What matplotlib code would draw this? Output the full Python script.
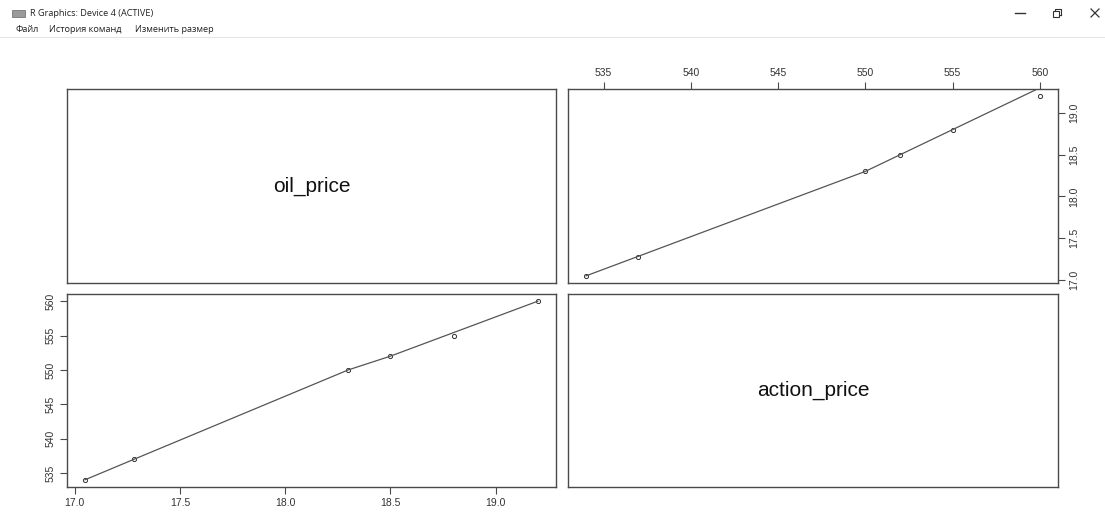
import matplotlib
matplotlib.use("Agg")
import matplotlib.pyplot as plt
import numpy as np

# Цены: нефть и акции
oil_price = [17.05, 17.28, 18.3, 18.5, 18.8, 19.2]
action_price = [534, 537, 550, 552, 555, 560]
var_names = ["oil_price", "action_price"]

oil_ticks = [17.0, 17.5, 18.0, 18.5, 19.0]
action_ticks = [535, 540, 545, 550, 555, 560]


def lowess(x, y, f=2/3, iters=3):
    # тот же алгоритм, что и lowess() в R
    x = np.asarray(x, float)
    y = np.asarray(y, float)
    order = np.argsort(x)
    x, y = x[order], y[order]
    n = len(x)
    ns = max(min(int(round(f * n)), n), 2)
    rng = x[-1] - x[0]
    rw = np.ones(n)
    ys = np.zeros(n)
    for it in range(iters + 1):
        for i in range(n):
            d = np.abs(x - x[i])
            idx = np.argsort(d, kind="stable")[:ns]
            nl, nr = idx.min(), idx.max()
            h = max(x[i] - x[nl], x[nr] - x[i])
            w = np.zeros(n)
            for j in range(nl, nr + 1):
                r = abs(x[j] - x[i])
                if r <= 0.999 * h:
                    w[j] = 1.0 if r <= 0.001 * h else (1 - (r / h) ** 3) ** 3
            w *= rw
            if w.sum() <= 0:
                ys[i] = y[i]
                continue
            w = w / w.sum()
            if h > 0:
                a = np.sum(w * x)
                c = np.sum(w * (x - a) ** 2)
                if np.sqrt(c) > 0.001 * rng:
                    w = w * ((x[i] - a) * (x - a) / c + 1)
            ys[i] = np.sum(w * y)
        if it == iters:
            break
        res = y - ys
        cmad = 6 * np.median(np.abs(res))
        if cmad < 1e-7 * np.mean(np.abs(y)):
            break
        u = np.abs(res) / cmad
        rw = np.where(u <= 0.001, 1.0, np.where(u > 0.999, 0.0, (1 - u ** 2) ** 2))
    return x, ys


W, H = 1105, 512
fig = plt.figure(figsize=(W / 100, H / 100), dpi=100)
plt.rcParams["font.family"] = ["Liberation Sans", "DejaVu Sans"]

frame = "#4a4a4a"


def px_axes(x0, y0, x1, y1):
    return fig.add_axes([x0 / W, 1 - y1 / H, (x1 - x0) / W, (y1 - y0) / H])


def r_range(v):
    lo, hi = min(v), max(v)
    pad = (hi - lo) * 0.04
    return lo - pad, hi + pad


def fmt(t):
    return f"{t:g}" if isinstance(t, int) else f"{t:.1f}"


cols = [(67, 556), (568, 1058)]
rows = [(89, 283), (294, 487)]
data = [oil_price, action_price]
ticks = [oil_ticks, action_ticks]

for r in range(2):
    for c in range(2):
        ax = px_axes(cols[c][0], rows[r][0], cols[c][1], rows[r][1])
        for s in ax.spines.values():
            s.set_color(frame)
            s.set_linewidth(1.0)
        ax.set_xlim(*r_range(data[c]))
        ax.set_ylim(*r_range(data[r]))
        ax.tick_params(length=5, width=0.8, color=frame, labelsize=7.5,
                       labelcolor="#333333", pad=3)
        if r == c:
            ax.set_xticks([])
            ax.set_yticks([])
            ax.text(0.5, 0.5, var_names[r], transform=ax.transAxes,
                    ha="center", va="center", fontsize=15, color="#111111")
            continue
        xs, ys = data[c], data[r]
        ax.plot(xs, ys, "o", ms=3, mfc="none", mec="#333333", mew=0.7)
        lx, ly = lowess(xs, ys)
        ax.plot(lx, ly, "-", color="#555555", lw=0.9)
        ax.set_xticks(ticks[c])
        ax.set_yticks(ticks[r])
        ax.set_xticklabels([fmt(t) for t in ticks[c]])
        ax.set_yticklabels([fmt(t) for t in ticks[r]], rotation=90, va="center")
        if r == 0:
            # верхний ряд: ось x сверху, ось y справа
            ax.xaxis.tick_top()
            ax.yaxis.tick_right()
        else:
            ax.xaxis.tick_bottom()
            ax.yaxis.tick_left()

# заголовок окна и меню
ui_font = ["Open Sans", "DejaVu Sans"]
ui_col = "#333333"
fig.patches.append(plt.Rectangle((12 / W, 1 - 17 / H), 13 / W, 7 / H,
                                 transform=fig.transFigure, facecolor="#9a9a9a",
                                 edgecolor="#666666", lw=0.5))
fig.text(30 / W, 1 - 13.5 / H, "R Graphics: Device 4 (ACTIVE)", fontsize=6.6,
         family=ui_font, va="center", ha="left", color="#222222")
menu = [("Файл", 15), ("История команд", 49), ("Изменить размер", 135)]
for label, x in menu:
    fig.text(x / W, 1 - 29 / H, label, fontsize=6.6, family=ui_font,
             va="center", ha="left", color="#222222")
fig.lines.append(plt.Line2D([0, 1], [1 - 37 / H, 1 - 37 / H], transform=fig.transFigure,
                            color="#e6e6e6", lw=0.8))
# кнопки окна: свернуть, восстановить, закрыть
fig.lines.append(plt.Line2D([1015 / W, 1025 / W], [1 - 12.5 / H, 1 - 12.5 / H],
                            transform=fig.transFigure, color=ui_col, lw=1.0))
fig.patches.append(plt.Rectangle((1053 / W, 1 - 17 / H), 6 / W, 6 / H,
                                 transform=fig.transFigure, facecolor="white",
                                 edgecolor=ui_col, lw=0.8, zorder=2))
fig.lines.append(plt.Line2D([1055 / W, 1055 / W, 1061 / W, 1061 / W],
                            [1 - 11 / H, 1 - 9 / H, 1 - 9 / H, 1 - 15 / H],
                            transform=fig.transFigure, color=ui_col, lw=0.8))
fig.lines.append(plt.Line2D([1059 / W, 1061 / W], [1 - 15 / H, 1 - 15 / H],
                            transform=fig.transFigure, color=ui_col, lw=0.8))
fig.lines.append(plt.Line2D([1091 / W, 1099 / W], [1 - 9 / H, 1 - 17 / H],
                            transform=fig.transFigure, color=ui_col, lw=0.9))
fig.lines.append(plt.Line2D([1091 / W, 1099 / W], [1 - 17 / H, 1 - 9 / H],
                            transform=fig.transFigure, color=ui_col, lw=0.9))

fig.savefig("out.png", dpi=100)
